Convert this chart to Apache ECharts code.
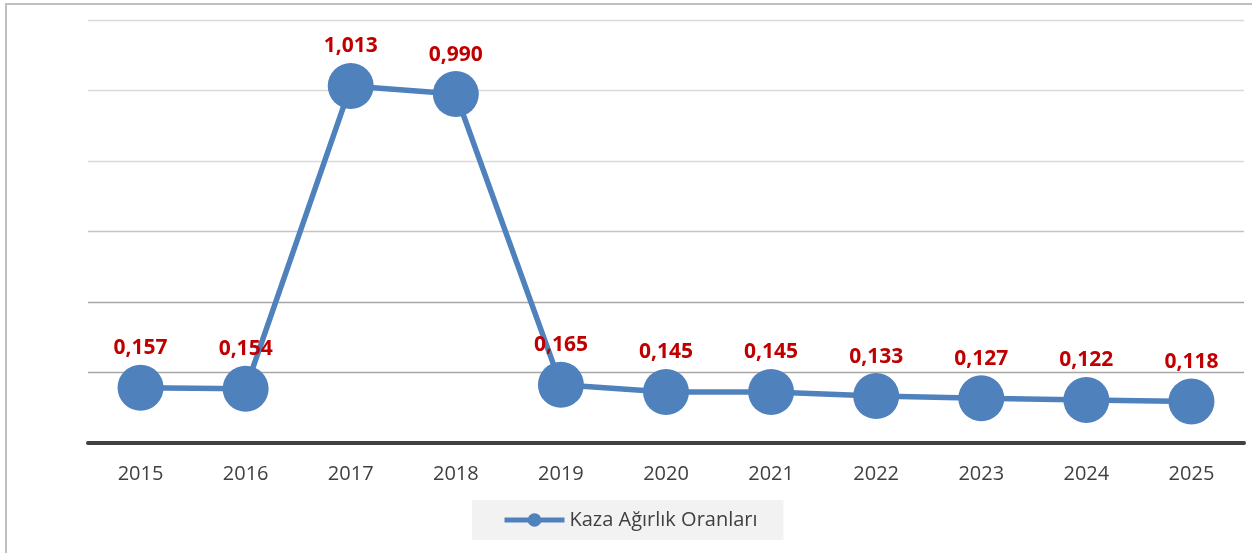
<!DOCTYPE html>
<html>
<head>
<meta charset="utf-8">
<script src="https://cdn.jsdelivr.net/npm/echarts@6/dist/echarts.min.js"></script>
<style>
html,body{margin:0;padding:0;background:#fff;}
#frame{position:absolute;left:5px;top:3px;width:1260px;height:560px;border-left:2px solid #bfbfbf;border-top:2px solid #bfbfbf;}
#main{position:absolute;left:0;top:0;width:1252px;height:553px;}
</style>
</head>
<body>
<div id="frame"></div>
<div id="main"></div>
<script>
const categories = ['2015','2016','2017','2018','2019','2020','2021','2022','2023','2024','2025'];
const values = [0.157,0.154,1.013,0.990,0.165,0.145,0.145,0.133,0.127,0.122,0.118];
const seriesName = 'Kaza Ağırlık Oranları';

const chart = echarts.init(document.getElementById('main'));
chart.setOption({
  animation:false,
  grid:{left:88,right:8,top:20,bottom:110},
  xAxis:{
    type:'category',
    data:categories,
    boundaryGap:true,
    axisLine:{lineStyle:{color:'#404040',width:4}},
    axisTick:{show:false},
    axisLabel:{color:'#404040',fontSize:20,fontFamily:'Open Sans',margin:21}
  },
  yAxis:{
    type:'value',min:0,max:1.2,interval:0.2,
    axisLabel:{show:false},
    axisLine:{show:false},axisTick:{show:false},
    splitLine:{lineStyle:{color:['#404040','#a6a6a6','#a6a6a6','#c4c4c4','#d9d9d9','#d9d9d9','#d9d9d9'],width:1.3}}
  },
  legend:{
    data:[seriesName],
    bottom:13,
    left:472,
    backgroundColor:'#f2f2f2',
    padding:[10,26,10,30],
    itemWidth:60,itemHeight:17,
    lineStyle:{width:5},
    textStyle:{color:'#404040',fontSize:20,fontFamily:'Open Sans'}
  },
  series:[{
    name:seriesName,
    type:'line',
    data:values,
    symbol:'circle',
    symbolSize:46,
    itemStyle:{color:'#4f81bd'},
    lineStyle:{color:'#4f81bd',width:5.5},
    label:{
      show:true,position:'top',distance:6,
      color:'#c00000',fontWeight:'bold',fontSize:21,fontFamily:'Open Sans',
      formatter:p=>p.value.toFixed(3).replace('.',',')
    }
  }]
});
</script>
</body>
</html>
